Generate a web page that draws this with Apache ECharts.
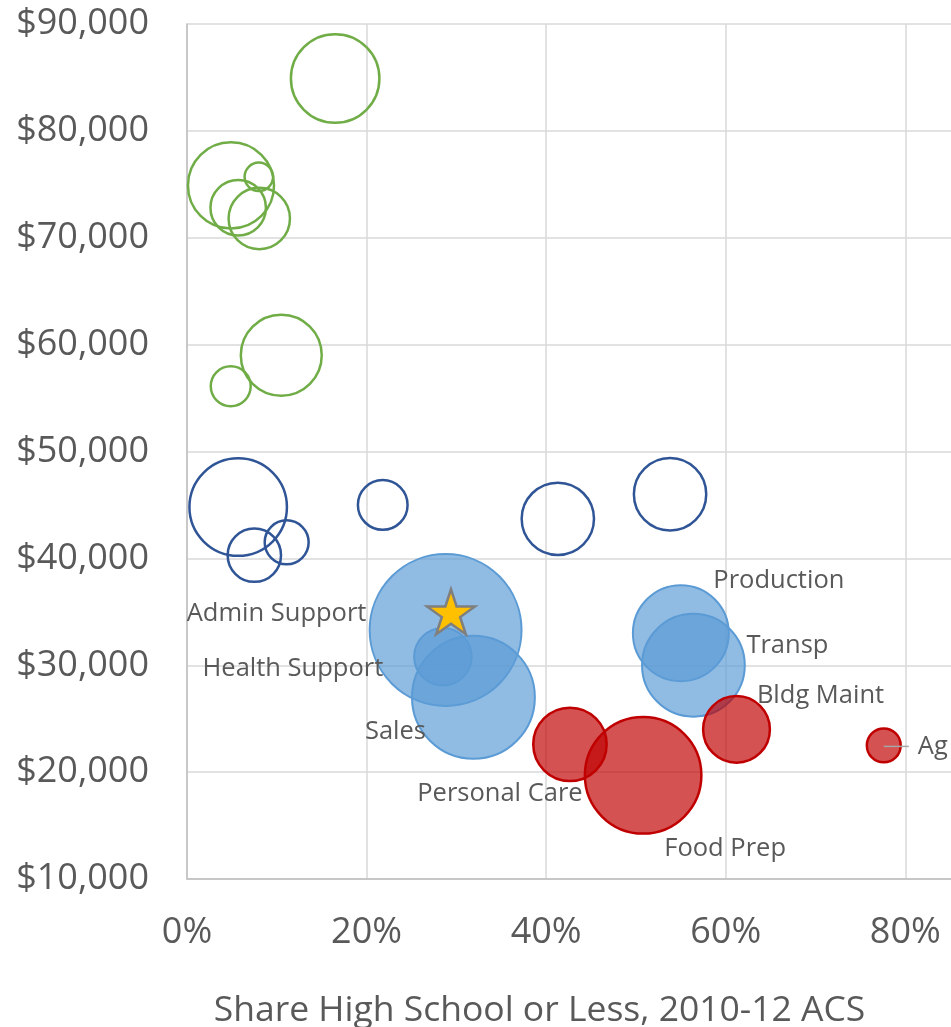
<!DOCTYPE html>
<html>
<head>
<meta charset="utf-8">
<title>Earnings vs Share High School or Less</title>
<script src="https://cdn.jsdelivr.net/npm/echarts@6/dist/echarts.min.js"></script>
<style>
  html, body { margin: 0; padding: 0; background: #fff; }
  #main { width: 951px; height: 1027px; }
</style>
</head>
<body>
<div id="main"></div>
<script>
// high wage occupations (green rings)
var highX = [0.165, 0.049, 0.080, 0.057, 0.0805, 0.105, 0.0487];
var highY = [84900, 74900, 75700, 72800, 71800, 59000, 56100];
var highSize = [207, 196, 24, 84, 102, 174, 45];

// middle wage occupations (dark blue rings)
var midX = [0.057, 0.075, 0.111, 0.218, 0.413, 0.538];
var midY = [44800, 40300, 41500, 45000, 43700, 46000];
var midSize = [250, 78, 54, 68, 140, 140];

// lower-middle occupations (light blue, labelled)
var lowNames = ['Admin Support', 'Health Support', 'Sales', 'Production', 'Transp'];
var lowX = [0.288, 0.285, 0.319, 0.550, 0.564];
var lowY = [33300, 30800, 27000, 33000, 30000];
var lowSize = [596, 90, 393, 242, 277];

// low wage occupations (red, labelled)
var poorNames = ['Personal Care', 'Food Prep', 'Bldg Maint', 'Ag'];
var poorX = [0.4265, 0.508, 0.612, 0.776];
var poorY = [22600, 19700, 24000, 22500];
var poorSize = [144, 354, 120, 33];

// the star marker
var starX = [0.294];
var starY = [35000];

// axis ticks
var xTicks = [0, 0.2, 0.4, 0.6, 0.8];
var yTicks = [10000, 20000, 30000, 40000, 50000, 60000, 70000, 80000, 90000];

// label placement (px from bubble centre), styling only
var labelOffset = {
  'Admin Support': [-169, -16],
  'Health Support': [-150, 12],
  'Sales': [-78, 34],
  'Production': [98, -52],
  'Transp': [94, -20],
  'Personal Care': [-70, 49],
  'Food Prep': [82, 73],
  'Bldg Maint': [84, -34],
  'Ag': [0, 1]
};

var textColor = '#595959';
var font = 'Open Sans';

function buildData(xs, ys, sizes, names) {
  var arr = [];
  for (var i = 0; i < xs.length; i++) {
    var item = { value: [xs[i], ys[i], sizes ? sizes[i] : 0] };
    if (names) {
      item.name = names[i];
      item.label = { offset: labelOffset[names[i]] };
      if (names[i] === 'Ag') {
        // leader line drawn as part of the label, starting at bubble centre
        item.label.align = 'left';
        item.label.formatter = '{line|}{gap|}{b}';
        item.label.rich = {
          line: { width: 25, height: 1.5, backgroundColor: '#A6A6A6' },
          gap: { width: 9 }
        };
      }
    }
    arr.push(item);
  }
  return arr;
}

// bubble area proportional to value
function bubble(val) {
  return Math.sqrt(val[2] * 40) - 2.5;
}

var bubbleLabel = {
  show: true,
  position: 'inside',
  formatter: '{b}',
  color: textColor,
  fontFamily: font,
  fontSize: 25.5
};

var chart = echarts.init(document.getElementById('main'));

var option = {
  animation: false,
  backgroundColor: '#fff',
  textStyle: { fontFamily: font },
  grid: {
    left: 187,
    right: -1,
    top: 24,
    bottom: 148,
    containLabel: false,
    outerBoundsMode: 'none'
  },
  xAxis: {
    type: 'value',
    min: 0,
    max: 0.852,
    interval: 0.2,
    name: 'Share High School or Less, 2010-12 ACS',
    nameLocation: 'middle',
    nameGap: 114,
    nameTextStyle: { color: textColor, fontSize: 35.5, fontFamily: font, padding: [0, 60, 0, 0] },
    axisLine: { show: true, lineStyle: { color: '#BFBFBF', width: 1.5 } },
    axisTick: { show: false },
    splitLine: { show: true, lineStyle: { color: '#D9D9D9', width: 1.5 } },
    axisLabel: {
      color: textColor,
      fontSize: 36,
      fontFamily: font,
      margin: 36,
      formatter: function (v) {
        for (var i = 0; i < xTicks.length; i++) {
          if (Math.abs(v - xTicks[i]) < 1e-6) return Math.round(v * 100) + '%';
        }
        return '';
      }
    }
  },
  yAxis: {
    type: 'value',
    min: yTicks[0],
    max: yTicks[yTicks.length - 1],
    interval: 10000,
    axisLine: { show: true, lineStyle: { color: '#BFBFBF', width: 1.5 } },
    axisTick: { show: false },
    splitLine: { show: true, lineStyle: { color: '#D9D9D9', width: 1.5 } },
    axisLabel: {
      color: textColor,
      fontSize: 36,
      fontFamily: font,
      margin: 38,
      formatter: function (v) {
        return '$' + v.toLocaleString('en-US');
      }
    }
  },
  series: [
    {
      type: 'scatter',
      symbol: 'circle',
      symbolSize: bubble,
      data: buildData(highX, highY, highSize),
      itemStyle: { color: 'rgba(0,0,0,0)', borderColor: '#70AD47', borderWidth: 2.5, opacity: 1 },
      emphasis: { disabled: true }
    },
    {
      type: 'scatter',
      symbol: 'circle',
      symbolSize: bubble,
      data: buildData(midX, midY, midSize),
      itemStyle: { color: 'rgba(0,0,0,0)', borderColor: '#2F5597', borderWidth: 2.5, opacity: 1 },
      emphasis: { disabled: true }
    },
    {
      type: 'scatter',
      symbol: 'circle',
      symbolSize: bubble,
      data: buildData(lowX, lowY, lowSize, lowNames),
      itemStyle: { color: 'rgba(91,155,213,0.68)', borderColor: '#5B9BD5', borderWidth: 2, opacity: 1 },
      label: bubbleLabel,
      emphasis: { disabled: true }
    },
    {
      type: 'scatter',
      symbol: 'circle',
      symbolSize: bubble,
      data: buildData(poorX, poorY, poorSize, poorNames),
      itemStyle: { color: 'rgba(192,0,0,0.68)', borderColor: '#C00000', borderWidth: 2.5, opacity: 1 },
      label: bubbleLabel,
      emphasis: { disabled: true }
    },
    {
      type: 'scatter',
      symbol: 'path://M50,0L61.23,34.55L97.55,34.55L68.17,55.9L79.39,90.45L50,69.1L20.61,90.45L31.83,55.9L2.45,34.55L38.77,34.55Z',
      symbolSize: [48, 45],
      data: buildData(starX, starY),
      itemStyle: { color: '#FFC000', borderColor: '#7F7F7F', borderWidth: 2.5, opacity: 1 },
      emphasis: { disabled: true },
      z: 5
    }
  ]
};

chart.setOption(option);
</script>
</body>
</html>
